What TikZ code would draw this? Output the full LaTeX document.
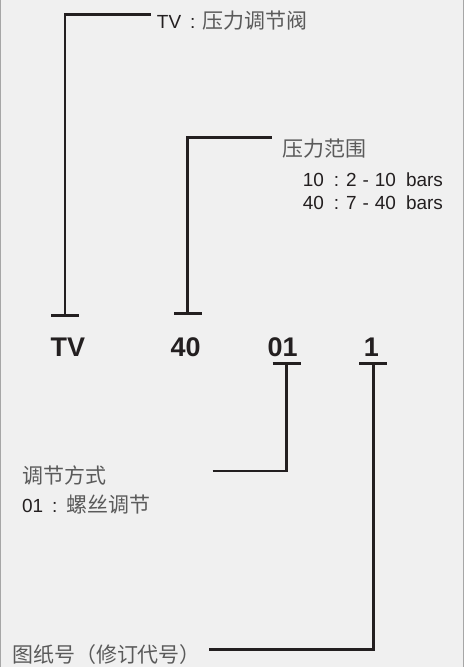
\documentclass[tikz,border=0pt]{standalone}
\usepackage{fontspec}
\setmainfont{Liberation Sans}
\newfontfamily\cjk{Noto Sans CJK SC}
\usetikzlibrary{arrows.meta,positioning,calc}

\definecolor{bgcol}{HTML}{F0F0F0}
\definecolor{inkcol}{HTML}{231F20}
\definecolor{cjkcol}{HTML}{5A5A5A}
\newcommand{\zh}[1]{{\cjk\color{cjkcol}\fontsize{21}{21}\selectfont #1}}

\begin{document}
\begin{tikzpicture}[x=1pt,y=-1pt,
    code/.style={font=\fontsize{27}{27}\selectfont\bfseries, text=inkcol, inner sep=0pt},
    note/.style={font=\fontsize{19}{20}\selectfont, text=inkcol, inner sep=0pt, anchor=west},
    lead/.style={draw=inkcol, line width=2.6pt},
    tee/.style={-{Bar[width=28pt,line width=2.6pt]}}]
    % --- frame ---
    \fill[bgcol] (0,0) rectangle (465,667);
    \draw[gray!70, line width=1pt] (0.5,0) -- (0.5,667) (464.5,0) -- (464.5,667);

    % --- code letters ---
    \node[code] (tv) at (68,347) {TV};
    \node[code] (p40) at (186,347) {40};
    \node[code] (m01) at (283,347) {01};
    \node[code] (r1) at (372,347) {1};

    % --- TV: valve type ---
    \node[note] (tvtxt) at (157,20) {TV\hspace{9pt}:\hspace{7pt}\zh{压力调节阀}};
    \coordinate (tvtee) at (65,317);
    \draw[lead,tee] ($(tvtxt.west)+(-6,-6)$) -| (tvtee);

    % --- 40: pressure range ---
    \node[note] (rng) at (283,148) {\zh{压力范围}};
    \node[note] (rng1) at (303,179) {10\hspace{10pt}:\hspace{7pt}2\hspace{6pt}-\hspace{6pt}10\hspace{10pt}bars};
    \node[note] (rng2) at (303,203) {40\hspace{10pt}:\hspace{7pt}7\hspace{6pt}-\hspace{6pt}40\hspace{10pt}bars};
    \coordinate (rngtee) at (188,315);
    \draw[lead,tee] ($(rng.west)+(-11,-11)$) -| (rngtee);

    % --- 01: adjusting method ---
    \node[note] (adj) at (22,476) {\zh{调节方式}};
    \node[note] (adj1) at (22,505) {01\hspace{9pt}:\hspace{9pt}\zh{螺丝调节}};
    \coordinate (adjend) at (213,471);
    \coordinate (adjtee) at (287,362);
    \draw[lead,tee] (adjend) -| (adjtee);

    % --- 1: drawing number ---
    \node[note] (dwg) at (12,655) {\zh{图纸号（修订代号）}};
    \coordinate (dwgtee) at (374,362);
    \draw[lead,tee] ($(dwg.east)+(8,-5)$) -| (dwgtee);
\end{tikzpicture}
\end{document}
